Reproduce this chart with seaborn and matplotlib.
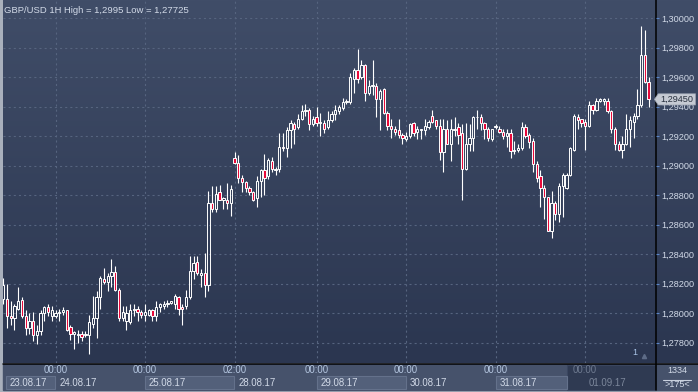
import numpy as np
import matplotlib
matplotlib.use("Agg")
import matplotlib.pyplot as plt
import matplotlib.transforms as mtrans
import seaborn as sns
from matplotlib.patches import Rectangle, Polygon
from matplotlib.colors import LinearSegmentedColormap

# --- Dados (GBP/USD 1H) ---
OPENS = [
    1.2810, 1.2810, 1.2798, 1.2797, 1.2803, 1.2809, 1.2798, 1.2790, 1.2795, 1.2785,
    1.2788, 1.2800, 1.2804, 1.2798, 1.2798, 1.2800, 1.2801, 1.2802, 1.2791, 1.2786,
    1.2785, 1.2786, 1.2785, 1.2785, 1.2793, 1.2797, 1.2811, 1.2823, 1.2821, 1.2825,
    1.2828, 1.2816, 1.2797, 1.2795, 1.2794, 1.2802, 1.2803, 1.2801, 1.2799, 1.2799,
    1.2802, 1.2798, 1.2804, 1.2805, 1.2806, 1.2807, 1.2806, 1.2811, 1.2804, 1.2805,
    1.2811, 1.2829, 1.2835, 1.2826, 1.2827, 1.2819, 1.2875, 1.2871, 1.2882, 1.2877,
    1.2877, 1.2875, 1.2905, 1.2902, 1.2892, 1.2889, 1.2885, 1.2882, 1.2878, 1.2890,
    1.2897, 1.2893, 1.2903, 1.2897, 1.2898, 1.2913, 1.2912, 1.2924, 1.2928, 1.2926,
    1.2932, 1.2937, 1.2938, 1.2928, 1.2933, 1.2929, 1.2929, 1.2926, 1.2931, 1.2935,
    1.2937, 1.2939, 1.2943, 1.2943, 1.2959, 1.2965, 1.2960, 1.2968, 1.2949, 1.2954,
    1.2954, 1.2945, 1.2952, 1.2936, 1.2927, 1.2925, 1.2924, 1.2921, 1.2918, 1.2920,
    1.2929, 1.2923, 1.2924, 1.2924, 1.2926, 1.2934, 1.2931, 1.2927, 1.2909, 1.2925,
    1.2915, 1.2924, 1.2926, 1.2922, 1.2898, 1.2915, 1.2919, 1.2933, 1.2933, 1.2929,
    1.2925, 1.2918, 1.2926, 1.2925, 1.2923, 1.2920, 1.2922, 1.2910, 1.2911, 1.2912,
    1.2926, 1.2921, 1.2917, 1.2901, 1.2893, 1.2885, 1.2879, 1.2856, 1.2875, 1.2867,
    1.2886, 1.2885, 1.2894, 1.2911, 1.2933, 1.2932, 1.2930, 1.2927, 1.2941, 1.2938,
    1.2944, 1.2944, 1.2944, 1.2937, 1.2925, 1.2915, 1.2911, 1.2915, 1.2925, 1.2930,
    1.2934, 1.2941, 1.2975, 1.2957,
]
HIGHS = [
    1.2824, 1.2820, 1.2808, 1.2806, 1.2818, 1.2811, 1.2802, 1.2800, 1.2801, 1.2792,
    1.2802, 1.2805, 1.2806, 1.2805, 1.2802, 1.2803, 1.2804, 1.2802, 1.2792, 1.2788,
    1.2789, 1.2788, 1.2788, 1.2799, 1.2812, 1.2815, 1.2825, 1.2831, 1.2827, 1.2837,
    1.2832, 1.2817, 1.2805, 1.2805, 1.2806, 1.2806, 1.2805, 1.2802, 1.2806, 1.2803,
    1.2803, 1.2808, 1.2807, 1.2808, 1.2809, 1.2808, 1.2813, 1.2812, 1.2806, 1.2816,
    1.2839, 1.2839, 1.2839, 1.2830, 1.2841, 1.2883, 1.2886, 1.2886, 1.2887, 1.2879,
    1.2888, 1.2887, 1.2909, 1.2907, 1.2894, 1.2890, 1.2886, 1.2883, 1.2893, 1.2898,
    1.2908, 1.2905, 1.2906, 1.2899, 1.2922, 1.2922, 1.2926, 1.2931, 1.2930, 1.2935,
    1.2941, 1.2942, 1.2939, 1.2934, 1.2940, 1.2936, 1.2931, 1.2937, 1.2937, 1.2941,
    1.2941, 1.2946, 1.2945, 1.2963, 1.2966, 1.2979, 1.2972, 1.2969, 1.2958, 1.2972,
    1.2956, 1.2952, 1.2953, 1.2937, 1.2932, 1.2927, 1.2932, 1.2922, 1.2923, 1.2929,
    1.2930, 1.2927, 1.2925, 1.2932, 1.2931, 1.2938, 1.2931, 1.2932, 1.2932, 1.2931,
    1.2932, 1.2933, 1.2929, 1.2928, 1.2929, 1.2928, 1.2934, 1.2938, 1.2935, 1.2930,
    1.2926, 1.2925, 1.2928, 1.2927, 1.2925, 1.2925, 1.2925, 1.2917, 1.2915, 1.2930,
    1.2928, 1.2922, 1.2919, 1.2903, 1.2897, 1.2887, 1.2879, 1.2883, 1.2876, 1.2888,
    1.2895, 1.2895, 1.2913, 1.2935, 1.2935, 1.2932, 1.2932, 1.2944, 1.2942, 1.2946,
    1.2946, 1.2946, 1.2946, 1.2938, 1.2926, 1.2917, 1.2920, 1.2935, 1.2934, 1.2936,
    1.2952, 1.2995, 1.2992, 1.2960,
]
LOWS = [
    1.2806, 1.2790, 1.2792, 1.2789, 1.2802, 1.2797, 1.2785, 1.2786, 1.2781, 1.2779,
    1.2785, 1.2795, 1.2798, 1.2795, 1.2797, 1.2795, 1.2799, 1.2788, 1.2782, 1.2776,
    1.2780, 1.2781, 1.2784, 1.27725, 1.2790, 1.2783, 1.2803, 1.2820, 1.2815, 1.2818,
    1.2815, 1.2795, 1.2795, 1.2789, 1.2793, 1.2798, 1.2795, 1.2797, 1.2795, 1.2798,
    1.2795, 1.2795, 1.2801, 1.2803, 1.2804, 1.2806, 1.2803, 1.2799, 1.2792, 1.2803,
    1.2810, 1.2823, 1.2826, 1.2818, 1.2811, 1.2815, 1.2869, 1.2869, 1.2877, 1.2871,
    1.2871, 1.2866, 1.2901, 1.2888, 1.2882, 1.2882, 1.2880, 1.2876, 1.2872, 1.2879,
    1.2880, 1.2891, 1.2896, 1.2894, 1.2896, 1.2910, 1.2906, 1.2912, 1.2915, 1.2925,
    1.2931, 1.2934, 1.2924, 1.2927, 1.2927, 1.2920, 1.2922, 1.2925, 1.2930, 1.2931,
    1.2935, 1.2938, 1.2942, 1.2942, 1.2949, 1.2956, 1.2959, 1.2944, 1.2948, 1.2948,
    1.2933, 1.2924, 1.2935, 1.2924, 1.2919, 1.2921, 1.2919, 1.2915, 1.2917, 1.2919,
    1.2920, 1.2918, 1.2918, 1.2921, 1.2925, 1.2929, 1.2925, 1.2904, 1.2896, 1.2915,
    1.2903, 1.2920, 1.2915, 1.2877, 1.2897, 1.2910, 1.2910, 1.2925, 1.2924, 1.2918,
    1.2917, 1.2917, 1.2925, 1.2922, 1.2918, 1.2913, 1.2905, 1.2908, 1.2909, 1.2911,
    1.2919, 1.2912, 1.2896, 1.2889, 1.2872, 1.2864, 1.2856, 1.2851, 1.2863, 1.2862,
    1.2865, 1.2884, 1.2893, 1.2910, 1.2925, 1.2926, 1.2911, 1.2926, 1.2935, 1.2937,
    1.2943, 1.2941, 1.2936, 1.2922, 1.2911, 1.2910, 1.2905, 1.2914, 1.2913, 1.2919,
    1.2932, 1.2940, 1.2956, 1.2940,
]
CLOSES = [
    1.2819, 1.2798, 1.2797, 1.2805, 1.2808, 1.2798, 1.2790, 1.2795, 1.2785, 1.2788,
    1.2800, 1.2804, 1.2801, 1.2802, 1.2800, 1.2801, 1.2802, 1.2789, 1.2786, 1.2787,
    1.2786, 1.2784, 1.2786, 1.2794, 1.2797, 1.2811, 1.2824, 1.2821, 1.2825, 1.2828,
    1.2816, 1.2797, 1.2801, 1.2800, 1.2802, 1.2803, 1.2801, 1.2799, 1.2801, 1.2802,
    1.2798, 1.2804, 1.2806, 1.2806, 1.2807, 1.2808, 1.2812, 1.2803, 1.2803, 1.2811,
    1.2829, 1.2834, 1.2827, 1.2827, 1.2819, 1.2875, 1.2871, 1.2881, 1.2877, 1.2878,
    1.2875, 1.2884, 1.2902, 1.2892, 1.2889, 1.2885, 1.2882, 1.2877, 1.2890, 1.2897,
    1.2892, 1.2904, 1.2898, 1.2898, 1.2913, 1.2912, 1.2924, 1.2929, 1.2925, 1.2932,
    1.2937, 1.2938, 1.2928, 1.2932, 1.2929, 1.2930, 1.2925, 1.2931, 1.2935, 1.2938,
    1.2940, 1.2943, 1.2944, 1.2960, 1.2965, 1.2959, 1.2968, 1.2949, 1.2954, 1.2955,
    1.2945, 1.2951, 1.2936, 1.2927, 1.2925, 1.2923, 1.2921, 1.2919, 1.2920, 1.2928,
    1.2922, 1.2925, 1.2925, 1.2927, 1.2930, 1.2930, 1.2927, 1.2909, 1.2925, 1.2915,
    1.2925, 1.2925, 1.2921, 1.2898, 1.2915, 1.2919, 1.2933, 1.2933, 1.2929, 1.2925,
    1.2919, 1.2925, 1.2927, 1.2923, 1.2920, 1.2922, 1.2910, 1.2911, 1.2912, 1.2926,
    1.2920, 1.2916, 1.2901, 1.2892, 1.2885, 1.2879, 1.2856, 1.2875, 1.2867, 1.2886,
    1.2894, 1.2894, 1.2912, 1.2934, 1.2931, 1.2929, 1.2927, 1.2941, 1.2938, 1.2944,
    1.2945, 1.2945, 1.2937, 1.2925, 1.2915, 1.2911, 1.2915, 1.2925, 1.2931, 1.2934,
    1.2941, 1.2975, 1.2957, 1.2945,
]

PRICE_TICKS = [1.278, 1.280, 1.282, 1.284, 1.286, 1.288, 1.290, 1.292, 1.294, 1.296, 1.298, 1.300]
TIME_TICKS = [14, 38, 62, 84, 108, 132, 156]
TIME_LABELS = ["00:00", "00:00", "02:00", "00:00", "00:00", "00:00", "00:00"]
DAY_STARTS = [0.6, 14, 38, 62, 84, 108, 132, 156]
DAY_LABELS = ["23.08.17", "24.08.17", "25.08.17", "28.08.17", "29.08.17", "30.08.17", "31.08.17", "01.09.17"]
LAST_PRICE = 1.2945
TITLE = "GBP/USD 1H High = 1,2995 Low = 1,27725"
BAR_COUNT = "1334"
VISIBLE = ">175<"

# --- Cores ---
BG_TOP = "#404d68"
BG_BOT = "#2b3650"
GRID = "#56647f"
RED = "#e8093a"
TXT = "#d2dae8"
TIME_TXT = "#b4c6e0"
PANEL = "#46526b"
BOX = "#53607a"

W, H = 698, 392
X0, X1 = -0.08, 174.99
Y0, Y1 = 1.27663, 1.30117

sns.set_style("dark")
plt.rcParams["font.family"] = ["Liberation Sans", "DejaVu Sans"]
plt.rcParams["lines.scale_dashes"] = False

fig = plt.figure(figsize=(W / 100, H / 100), dpi=100)
fig.patch.set_facecolor("#a9b0bc")

# fundo em pixels
bg = fig.add_axes([0, 0, 1, 1], zorder=-2)
bg.set_xlim(0, W)
bg.set_ylim(H, 0)
bg.axis("off")
grad = LinearSegmentedColormap.from_list("bg", [BG_TOP, BG_BOT])
bg.imshow(np.linspace(0, 1, 256).reshape(-1, 1), cmap=grad, aspect="auto",
          extent=(3, W, 363, 0), zorder=0)
bg.add_patch(Rectangle((3, 364), W - 3, 25.5, color=PANEL, zorder=1))
bg.add_patch(Rectangle((567, 364.5), 89, 25, facecolor="#2f3a52", edgecolor="#3a4660", lw=0.8, zorder=2))
bg.plot([656, 656], [0, 390], color="black", lw=1.1, zorder=3)
bg.plot([3, W], [363.5, 363.5], color="black", lw=1.1, zorder=3)
bg.plot([663, 691], [379.5, 379.5], color="#c9d1de", lw=0.8, zorder=3)
bg.text(677, 370.5, BAR_COUNT, color=TXT, fontsize=6.5, ha="center", va="center", zorder=4)
bg.text(677, 384.5, VISIBLE, color=TXT, fontsize=6.5, ha="center", va="center", zorder=4)

# --- Gráfico principal ---
ax = fig.add_axes([3 / W, 29 / H, 653 / W, 362 / H])
ax.set_facecolor("none")
for s in ax.spines.values():
    s.set_visible(False)

ax.set_yticks(PRICE_TICKS)
ax.set_xticks(TIME_TICKS)
ax.grid(True, color=GRID, lw=0.8, linestyle=(0, (1.5, 2.2)))
ax.yaxis.tick_right()
ax.tick_params(axis="y", which="both", right=True, left=False, direction="out",
               length=2.2, width=0.8, color="#5b86c8", pad=1.5,
               labelsize=6.6, labelcolor=TXT)
ax.tick_params(axis="x", length=0, labelbottom=False)
ax.set_yticklabels([f"{p:.5f}".replace(".", ",") for p in PRICE_TICKS])

BW = 0.62
for i, (o, h, l, c) in enumerate(zip(OPENS, HIGHS, LOWS, CLOSES)):
    top, bot = max(o, c), min(o, c)
    if h > top:
        ax.plot([i, i], [top, h], color="white", lw=0.8, solid_capstyle="butt", zorder=3)
    if l < bot:
        ax.plot([i, i], [l, bot], color="white", lw=0.8, solid_capstyle="butt", zorder=3)
    fc = RED if c < o else "none"
    ax.add_patch(Rectangle((i - BW / 2, bot), BW, top - bot, facecolor=fc,
                           edgecolor="white", lw=0.7, zorder=4))

ax.set_xlim(X0, X1)
ax.set_ylim(Y0, Y1)

ax.text(0.0015, 0.973, TITLE, transform=ax.transAxes, color=TXT, fontsize=6.8,
        ha="left", va="center")
ax.text(0.968, 0.017, "1", transform=ax.transAxes, color="#a9c3e6", fontsize=6.5,
        ha="center", va="bottom")
ax.plot([0.9815], [0.018], transform=ax.transAxes, marker="^", ms=3,
        color="#5d6b86", clip_on=False)

# etiqueta do último preço
bl = mtrans.blended_transform_factory(ax.transAxes, ax.transData)
dh = 5.6 / 14750
ax.add_patch(Polygon([(0.9975, LAST_PRICE), (1.0035, LAST_PRICE + dh), (1.0605, LAST_PRICE + dh),
                      (1.0605, LAST_PRICE - dh), (1.0035, LAST_PRICE - dh)],
                     closed=True, transform=bl, facecolor="#c5cad3", edgecolor="#9aa2b0",
                     lw=0.5, clip_on=False, zorder=6))
ax.text(1.032, LAST_PRICE, f"{LAST_PRICE:.5f}".replace(".", ","), transform=bl,
        color="#27303e", fontsize=6.6, ha="center", va="center", clip_on=False, zorder=7)

# --- Eixo de tempo ---
axb = fig.add_axes([3 / W, 2.5 / H, 653 / W, 26 / H], sharex=ax)
axb.set_facecolor("none")
axb.axis("off")
axb.set_ylim(0, 1)
tb = mtrans.blended_transform_factory(axb.transData, axb.transAxes)
ends = DAY_STARTS[1:] + [X1]
for k, (s, e, lab) in enumerate(zip(DAY_STARTS, ends, DAY_LABELS)):
    grey = k == len(DAY_LABELS) - 1
    if k % 2 == 0 and not grey:
        e = min(e, 151.1)
        axb.add_patch(Rectangle((s + 0.1, 0.03), e - s - 0.2, 0.5, transform=tb,
                                facecolor=BOX, edgecolor="#64718b", lw=0.8))
    axb.text(s + 1.0, 0.26, lab, transform=tb, fontsize=6.9, ha="left", va="center",
             color="#7c879b" if grey else TXT)
for t, lab in zip(TIME_TICKS, TIME_LABELS):
    grey = t == TIME_TICKS[-1]
    axb.text(t, 0.76, lab, transform=tb, fontsize=6.9, ha="center", va="center",
             color="#6f7b91" if grey else TIME_TXT)

fig.savefig("out.png", dpi=100, facecolor=fig.get_facecolor())
